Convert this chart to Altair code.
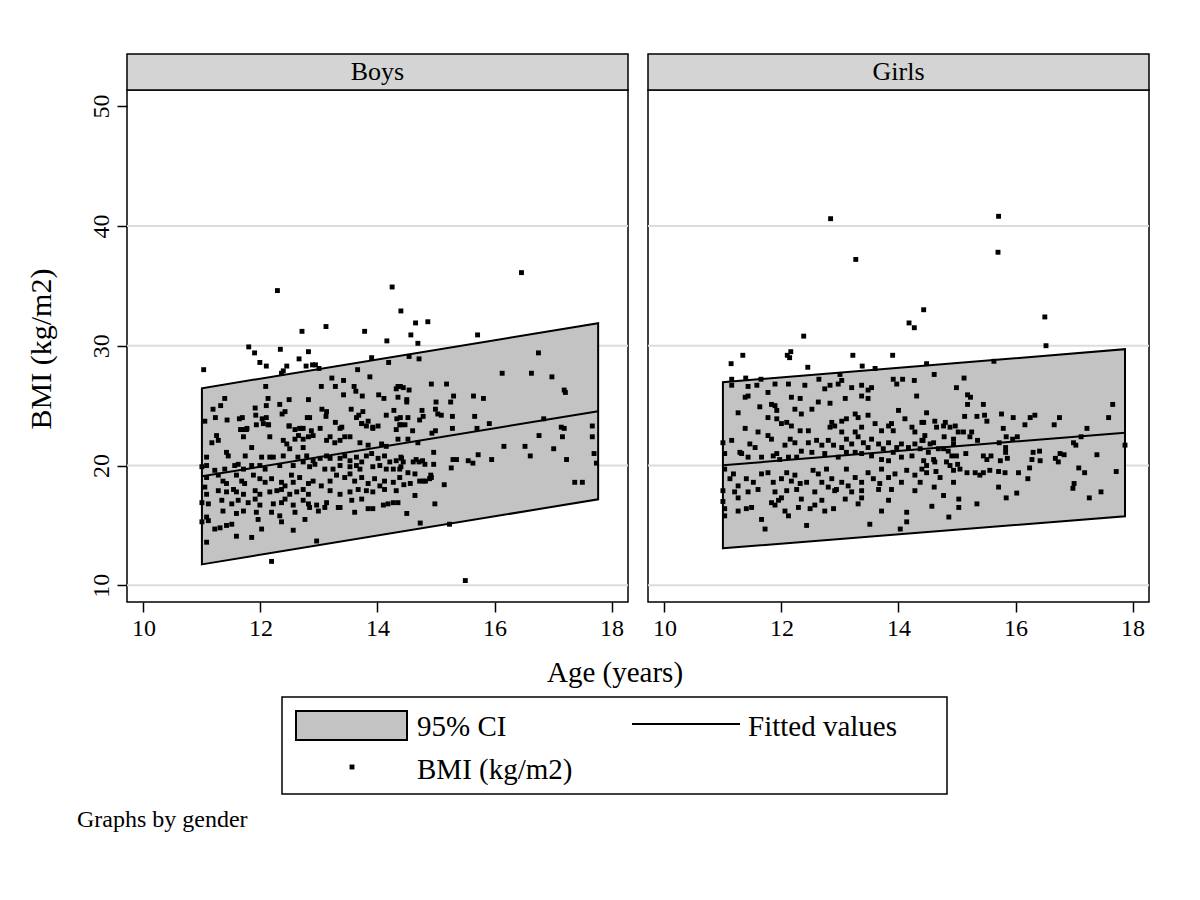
import altair as alt
import pandas as pd

PANELS = ["Boys", "Girls"]
X_TICKS = [10, 12, 14, 16, 18]
Y_TICKS = [10, 20, 30, 40, 50]
GRID_VALUES = [10, 20, 30, 40]

boys_points = [
    (12.29, 34.6), (14.25, 34.9), (14.40, 32.9), (13.12, 31.6), (12.71, 31.2), (13.78, 31.2), (14.16, 30.4),
    (11.80, 29.9), (11.90, 29.4), (12.34, 29.7), (12.82, 29.5), (12.66, 28.9), (11.99, 28.6), (12.10, 28.3),
    (11.03, 28.0), (12.45, 28.3), (12.39, 27.9), (12.36, 27.7), (12.78, 28.3), (12.89, 28.4), (12.94, 28.4),
    (13.00, 28.1), (13.90, 29.0), (14.19, 28.6), (13.66, 28.0), (13.87, 27.4), (13.22, 27.3), (13.42, 27.1),
    (13.04, 26.6), (13.28, 26.6), (13.60, 26.6), (13.63, 26.2), (12.09, 26.6), (11.39, 25.6), (11.19, 24.7),
    (11.32, 25.0), (13.42, 25.9), (13.74, 25.8), (14.02, 25.9), (14.11, 25.6), (14.32, 26.4), (14.39, 26.6),
    (14.35, 25.7), (12.13, 25.6), (12.33, 25.1), (12.49, 25.5), (12.82, 25.5), (13.05, 24.7), (13.13, 24.5),
    (13.55, 24.7), (13.68, 24.2), (13.75, 24.5), (11.23, 24.0), (11.43, 23.8), (11.64, 23.9), (11.69, 24.0),
    (11.91, 24.8), (11.92, 24.2), (12.10, 25.0), (12.03, 23.9), (12.10, 24.0), (12.14, 23.4), (11.93, 23.4),
    (12.37, 24.3), (12.42, 24.5), (12.80, 24.0), (12.84, 24.0), (13.12, 24.1), (13.28, 23.6), (13.39, 23.2),
    (13.64, 24.0), (13.73, 23.5), (13.84, 23.7), (13.92, 23.2), (14.15, 24.2), (14.28, 24.6), (14.33, 23.9),
    (14.38, 23.4), (11.05, 23.7), (12.49, 23.3), (12.70, 23.1), (12.59, 23.0), (11.66, 23.0), (11.77, 23.1),
    (16.46, 36.1), (14.65, 31.9), (14.86, 32.0), (14.57, 30.9), (14.69, 30.2), (15.71, 30.9), (14.54, 29.1),
    (14.71, 28.9), (16.75, 29.4), (16.13, 27.7), (16.63, 27.7), (16.98, 27.4), (17.19, 26.3), (17.21, 26.1),
    (14.35, 26.6), (14.44, 26.5), (14.54, 26.3), (14.92, 26.8), (15.18, 26.8), (15.30, 25.8), (15.25, 25.3),
    (15.64, 25.8), (15.81, 25.6), (14.50, 25.5), (14.50, 25.3), (15.00, 25.3), (14.76, 24.6), (14.99, 24.7),
    (15.03, 24.3), (15.09, 24.2), (15.28, 24.1), (14.39, 24.0), (14.52, 24.0), (14.72, 23.8), (14.78, 24.1),
    (15.66, 24.1), (14.40, 23.4), (14.47, 23.4), (14.60, 22.9), (14.99, 22.9), (15.28, 23.1), (15.70, 23.1),
    (15.91, 23.5), (16.84, 23.9), (17.14, 23.2), (17.19, 23.1), (17.67, 23.3),
    (14.93, 22.7), (14.52, 22.2), (14.69, 21.9), (16.76, 22.5), (17.16, 22.4), (17.67, 22.4), (16.16, 21.6),
    (16.52, 21.6), (16.61, 20.8), (17.01, 21.4), (17.23, 20.5), (17.70, 21.0), (17.74, 20.2), (14.40, 20.7),
    (14.44, 20.3), (14.40, 19.9), (14.61, 20.3), (14.66, 20.5), (14.71, 20.3), (14.77, 20.4), (14.81, 20.1),
    (14.96, 21.1), (14.96, 20.1), (15.26, 19.8), (15.29, 20.5), (15.35, 20.5), (15.55, 20.4), (15.63, 20.2),
    (15.72, 20.9), (15.95, 20.5), (14.38, 19.7), (14.52, 19.4), (14.64, 19.3), (14.91, 19.2), (14.89, 18.9),
    (14.92, 19.0), (14.72, 18.7), (14.78, 18.7), (14.82, 18.7), (14.45, 18.4), (14.56, 18.5), (15.14, 18.4),
    (17.37, 18.6), (17.50, 18.6), (14.64, 17.5), (14.98, 16.8), (14.50, 16.0), (14.73, 15.2), (15.23, 15.1),
    (15.50, 10.4),
    (11.71, 23.0), (11.76, 23.0), (12.05, 23.5), (12.13, 23.4), (12.49, 23.3), (12.67, 23.1), (12.73, 23.1),
    (12.87, 22.9), (12.82, 22.4), (13.02, 23.1), (13.19, 22.4), (13.36, 23.1), (13.44, 22.4), (13.53, 22.4),
    (13.73, 23.5), (13.81, 23.3), (13.92, 23.1), (14.01, 23.3), (14.32, 23.0), (11.17, 21.9), (11.25, 22.5),
    (11.28, 22.1), (11.71, 22.4), (12.16, 22.4), (12.39, 22.1), (12.45, 21.8), (12.59, 22.2), (12.65, 22.5),
    (12.73, 22.2), (12.90, 22.5), (13.13, 22.1), (13.27, 21.9), (13.36, 22.1), (13.70, 21.9), (13.84, 21.7),
    (14.07, 21.8), (14.15, 21.6), (14.35, 22.2),
    (11.08, 20.7), (11.42, 21.1), (11.45, 20.8), (11.74, 20.8), (11.85, 21.5), (12.02, 20.7), (12.16, 20.7),
    (12.22, 20.7), (12.39, 20.8), (12.50, 21.4), (12.64, 20.7), (12.73, 21.5), (12.79, 20.8), (12.90, 20.4),
    (13.02, 20.6), (13.13, 20.8), (13.19, 20.6), (13.36, 20.6), (13.44, 20.8), (13.53, 20.4), (13.64, 20.7),
    (13.73, 20.3), (13.81, 20.8), (13.90, 21.0), (14.01, 20.6), (14.12, 20.8), (14.21, 20.3), (14.32, 20.4),
    (14.41, 20.6), (11.00, 19.9), (11.08, 20.0), (11.22, 19.6), (11.39, 19.7), (11.56, 20.0), (11.62, 20.1),
    (11.71, 19.7), (11.85, 20.0), (11.99, 20.0), (12.08, 19.7), (12.33, 20.0), (12.56, 20.0), (12.73, 20.3),
    (12.84, 19.9), (12.93, 20.1), (13.10, 19.7), (13.24, 19.7), (13.36, 20.0), (13.53, 19.9), (13.64, 20.0),
    (13.70, 19.7), (13.92, 19.9), (14.04, 20.0), (14.15, 19.7), (14.27, 19.7),
    (11.08, 19.0), (11.28, 19.2), (11.36, 18.7), (11.42, 18.5), (11.59, 19.2), (11.68, 18.7), (11.73, 18.5),
    (11.88, 19.2), (11.99, 18.9), (12.08, 18.6), (12.19, 18.9), (12.36, 18.6), (12.42, 18.3), (12.53, 19.2),
    (12.56, 18.6), (12.67, 19.0), (12.82, 18.5), (12.90, 18.7), (13.04, 18.3), (13.19, 18.7), (13.30, 19.2),
    (13.44, 19.0), (13.53, 19.3), (13.61, 18.7), (13.73, 19.0), (13.84, 18.5), (13.95, 18.9), (14.04, 18.3),
    (14.12, 18.7), (14.27, 18.6), (14.38, 19.0), (11.05, 18.2), (11.08, 17.6), (11.28, 17.9), (11.42, 17.8),
    (11.54, 18.0), (11.59, 17.8), (11.71, 17.6), (11.91, 17.9), (11.99, 17.6), (12.16, 17.8), (12.28, 17.9),
    (12.36, 18.0), (12.50, 17.6), (12.62, 17.8), (12.73, 18.0), (12.82, 17.6), (13.19, 17.9), (13.36, 17.6),
    (13.53, 17.8), (13.67, 18.0), (13.81, 17.9), (13.92, 17.8), (14.12, 18.0), (14.32, 17.9),
    (11.00, 16.9), (11.11, 16.8), (11.34, 17.1), (11.51, 16.8), (11.62, 17.1), (11.79, 16.9), (11.91, 17.2),
    (11.99, 16.7), (12.22, 16.8), (12.36, 16.9), (12.42, 17.2), (12.56, 16.7), (12.73, 17.1), (12.82, 16.8),
    (12.96, 16.7), (13.13, 16.9), (13.36, 16.5), (13.56, 17.1), (13.73, 17.2), (13.92, 16.4), (14.10, 16.7),
    (14.18, 16.8), (14.27, 16.9), (14.35, 16.9), (11.00, 15.3), (11.08, 15.7), (11.11, 15.4), (11.22, 14.7),
    (11.31, 14.8), (11.36, 16.2), (11.42, 15.0), (11.51, 15.1), (11.59, 16.0), (11.59, 14.1), (11.71, 16.2),
    (11.85, 14.0), (11.93, 16.1), (11.96, 15.5), (12.02, 14.7), (12.19, 16.1), (12.33, 15.8), (12.36, 15.3),
    (12.56, 14.6), (12.59, 16.1), (12.76, 15.5), (12.84, 16.5), (12.99, 16.2), (13.10, 16.5), (13.33, 16.5),
    (13.61, 16.1), (13.84, 16.4), (11.08, 13.6), (12.96, 13.7), (12.19, 12.0),
]

girls_points = [
    (12.84, 40.6), (13.27, 37.2), (14.43, 33.0), (14.18, 31.9), (14.27, 31.5), (12.38, 30.8), (11.14, 28.5),
    (11.34, 29.2), (12.10, 29.2), (12.16, 29.5), (12.14, 29.0), (13.22, 29.2), (13.90, 29.2), (12.45, 28.2),
    (13.38, 28.3), (13.60, 28.1), (13.00, 27.6), (11.15, 27.2), (11.39, 27.3), (11.65, 27.2), (12.64, 27.2),
    (13.03, 27.1), (13.91, 27.2), (14.07, 27.2), (14.27, 27.1),
    (15.71, 40.8), (15.70, 37.8), (16.50, 32.4), (16.52, 30.0), (14.48, 28.5), (15.63, 28.7), (14.61, 27.6),
    (15.12, 27.3),
    (11.15, 26.7), (11.43, 26.6), (11.58, 26.7), (11.89, 26.8), (12.12, 26.8), (12.40, 26.7), (12.74, 26.4),
    (12.83, 26.7), (12.97, 26.8), (13.20, 26.5), (13.37, 26.7), (13.48, 26.3), (13.54, 26.5), (13.97, 26.8),
    (14.31, 25.8), (11.38, 25.7), (11.43, 25.8), (11.77, 26.1), (12.17, 25.7), (12.32, 25.6), (12.63, 25.3),
    (12.83, 25.2), (13.09, 25.6), (13.37, 25.8), (13.48, 25.6),
    (11.26, 24.4), (11.63, 24.9), (11.83, 25.1), (11.89, 25.0), (11.92, 24.6), (12.23, 24.7), (12.34, 24.3),
    (12.52, 24.7), (11.77, 24.0), (11.92, 23.9), (12.00, 23.5), (12.09, 23.6), (12.17, 23.3), (12.32, 22.9),
    (12.46, 22.9), (12.86, 23.6), (13.03, 23.7), (13.11, 23.9), (13.26, 24.3), (13.31, 24.0), (13.48, 24.2),
    (13.60, 23.5), (13.83, 23.3), (13.88, 23.5), (14.00, 24.6), (14.11, 23.9), (14.23, 23.2), (14.40, 23.6),
    (11.38, 23.1), (11.60, 22.8), (12.83, 23.2), (12.91, 23.3), (13.03, 22.8), (13.26, 22.8), (13.37, 23.2),
    (13.71, 22.9), (13.91, 22.9), (14.28, 22.8),
    (11.00, 21.9), (11.15, 22.1), (11.32, 21.0), (11.46, 21.8), (11.55, 21.5), (11.77, 22.5), (11.83, 22.2),
    (11.86, 20.8), (11.92, 21.0), (11.97, 20.5), (12.06, 21.7), (12.15, 22.2), (12.23, 21.9), (12.34, 21.2),
    (12.46, 21.9), (12.52, 21.1), (12.60, 22.1), (12.69, 21.7), (12.80, 22.1), (12.89, 21.7), (13.03, 21.5),
    (13.11, 22.2), (13.20, 21.8), (13.26, 21.1), (13.31, 22.4), (13.40, 21.9), (13.48, 21.5), (13.54, 22.2),
    (13.66, 21.8), (13.74, 21.4), (13.83, 21.9), (13.91, 21.1), (13.97, 21.5), (14.05, 21.8), (14.17, 21.5),
    (14.28, 21.8), (14.40, 22.1), (11.03, 21.0), (11.29, 21.1), (11.43, 20.7), (11.66, 20.7), (12.12, 20.7),
    (12.26, 20.7), (12.74, 21.0), (12.97, 20.7), (13.11, 21.1), (13.37, 21.0), (13.54, 20.8), (13.71, 20.5),
    (13.83, 20.4), (14.05, 20.7), (14.23, 20.8),
    (11.03, 19.7), (11.12, 18.9), (11.18, 19.3), (11.26, 18.3), (11.40, 18.9), (11.52, 18.6), (11.66, 19.3),
    (11.77, 19.4), (11.86, 18.6), (12.00, 18.9), (12.09, 19.4), (12.17, 18.7), (12.23, 19.2), (12.32, 18.5),
    (12.43, 18.6), (12.54, 19.6), (12.63, 19.3), (12.69, 18.6), (12.77, 19.7), (12.80, 18.2), (12.86, 18.9),
    (12.94, 18.0), (13.03, 18.6), (13.11, 19.7), (13.14, 18.3), (13.26, 19.0), (13.37, 18.6), (13.48, 19.4),
    (13.57, 18.9), (13.68, 18.5), (13.71, 19.7), (13.83, 19.0), (13.94, 19.3), (14.05, 18.6), (14.14, 19.6),
    (14.28, 19.2), (14.37, 18.6), (11.00, 17.9), (11.20, 17.8), (11.43, 17.8), (11.60, 18.0), (11.89, 17.8),
    (12.09, 17.9), (12.26, 18.0), (12.57, 17.8), (12.91, 17.9), (13.20, 17.8), (13.37, 17.9), (13.66, 18.0),
    (13.88, 18.0), (14.28, 17.9),
    (11.03, 16.4), (11.03, 15.8), (11.26, 17.3), (11.26, 16.2), (11.40, 16.4), (11.49, 16.5), (11.66, 15.5),
    (11.72, 14.7), (11.83, 16.9), (11.89, 16.7), (11.95, 17.1), (12.06, 16.2), (12.12, 15.8), (12.29, 16.5),
    (12.43, 15.0), (12.49, 16.4), (12.57, 16.7), (12.69, 17.1), (12.74, 16.2), (12.89, 16.4), (13.09, 17.2),
    (13.31, 16.8), (13.51, 15.1), (13.71, 16.2), (14.03, 14.7), (14.14, 16.1), (14.14, 15.3), (11.00, 17.0),
    (12.00, 17.3), (12.34, 17.2), (13.37, 17.3), (13.83, 17.1),
    (14.99, 26.5), (15.18, 25.9), (15.23, 25.7), (15.18, 25.1), (15.45, 25.1), (17.66, 25.1), (14.48, 24.4),
    (14.43, 23.6), (14.62, 23.7), (14.77, 23.3), (14.80, 23.6), (14.88, 23.2), (14.97, 23.3), (14.65, 23.2),
    (15.13, 24.1), (15.34, 24.1), (15.47, 24.2), (15.51, 23.7), (15.76, 24.3), (15.96, 24.0), (16.16, 23.4),
    (16.25, 24.0), (16.33, 24.2), (16.66, 23.4), (16.75, 24.0), (17.22, 23.1), (17.59, 24.0), (15.79, 23.1),
    (14.45, 22.5), (14.42, 22.1), (14.54, 21.8), (14.60, 21.9), (14.78, 22.4), (14.94, 22.2), (14.94, 21.8),
    (15.02, 22.8), (15.11, 22.8), (15.25, 22.8), (15.22, 22.4), (15.35, 22.1), (15.72, 21.9), (15.84, 22.4),
    (15.95, 22.2), (16.03, 22.4), (16.99, 21.9), (17.03, 21.7), (17.12, 22.4), (17.87, 21.7),
    (14.37, 21.4), (14.51, 21.1), (14.68, 21.4), (14.77, 21.4), (14.85, 21.2), (14.91, 20.8), (14.99, 20.8),
    (15.15, 21.0), (15.45, 20.8), (15.58, 20.8), (15.51, 20.5), (15.83, 21.5), (15.83, 21.1), (16.30, 21.1),
    (16.41, 21.2), (16.28, 20.5), (16.42, 20.4), (16.68, 20.6), (16.73, 20.3), (16.76, 21.0), (16.83, 20.9),
    (17.39, 20.9), (14.43, 20.4), (14.48, 20.0), (14.60, 20.5), (14.62, 20.3), (14.82, 20.3), (14.88, 20.0),
    (15.01, 20.1), (15.74, 20.4), (15.86, 20.6), (17.08, 19.8), (17.18, 19.4),
    (14.40, 19.7), (14.48, 19.4), (14.64, 19.5), (14.71, 19.0), (14.94, 19.6), (15.05, 19.7), (15.17, 19.4),
    (15.31, 19.4), (15.39, 19.2), (15.45, 19.4), (15.56, 19.6), (15.71, 19.5), (15.82, 19.4), (16.05, 19.4),
    (16.24, 19.8), (16.21, 18.9), (17.72, 19.5), (14.94, 18.6), (14.61, 18.2), (15.71, 18.2), (16.02, 17.7),
    (17.00, 18.5), (16.98, 18.1), (17.46, 17.8), (14.77, 17.5), (15.84, 17.3), (17.26, 17.3), (15.03, 17.2),
    (15.03, 16.5), (15.34, 16.8), (14.57, 16.6), (14.86, 15.7),
]

boys_fit_age = [11.0, 17.77]
boys_fit = [19.10, 24.53]
boys_lo = [11.75, 17.18]
boys_hi = [26.45, 31.88]

girls_fit_age = [11.0, 17.87]
girls_fit = [20.02, 22.74]
girls_lo = [13.09, 15.76]
girls_hi = [26.95, 29.71]

FONT = "Liberation Serif"
W, H = 501, 512
XDOM = [9.72, 18.28]
YDOM = [8.61, 51.34]
BAND = "#c3c3c3"
STRIP = "#d4d4d4"
GRID = "#dcdcdc"
PT_SIZE = 24


def panel(label, pts, fa, ff, flo, fhi, first):
    pts_df = pd.DataFrame(pts, columns=["age", "bmi"])
    fit_df = pd.DataFrame({"age": fa, "fit": ff, "lo": flo, "hi": fhi})
    grid_df = pd.DataFrame({"v": GRID_VALUES})
    one = pd.DataFrame({"k": [0]})

    xs = alt.Scale(domain=XDOM, nice=False, zero=False)
    ys = alt.Scale(domain=YDOM, nice=False, zero=False)
    xax = alt.Axis(values=X_TICKS, title=None, grid=False, domain=False, tickSize=10,
                   tickWidth=1.5, tickColor="black", labelFont=FONT, labelFontSize=24,
                   labelColor="black", labelPadding=4, format="d")
    if first:
        yax = alt.Axis(values=Y_TICKS, title=None, grid=False, domain=False, tickSize=10,
                       tickWidth=1.5, tickColor="black", labelFont=FONT, labelFontSize=24,
                       labelColor="black", labelAngle=270, labelPadding=4, format="d")
    else:
        yax = None

    grid = alt.Chart(grid_df).mark_rule(color=GRID, strokeWidth=2).encode(
        y=alt.Y("v:Q", scale=ys, axis=yax), x=alt.value(0), x2=alt.value(W))
    band = alt.Chart(fit_df).mark_area(fill=BAND, stroke="black", strokeWidth=2, opacity=1).encode(
        x=alt.X("age:Q", scale=xs, axis=xax), y=alt.Y("lo:Q", scale=ys, axis=yax), y2="hi:Q")
    pts_layer = alt.Chart(pts_df).mark_square(size=PT_SIZE, color="black", opacity=1).encode(
        x=alt.X("age:Q", scale=xs, axis=xax), y=alt.Y("bmi:Q", scale=ys, axis=yax))
    line = alt.Chart(fit_df).mark_line(color="black", strokeWidth=2).encode(
        x=alt.X("age:Q", scale=xs, axis=xax), y=alt.Y("fit:Q", scale=ys, axis=yax))
    strip = alt.Chart(one).mark_rect(fill=STRIP, stroke="black", strokeWidth=1.5).encode(
        x=alt.value(0), x2=alt.value(W), y=alt.value(-36), y2=alt.value(0))
    strip_text = alt.Chart(one).mark_text(text=label, font=FONT, fontSize=26, color="black",
                                          align="center", baseline="middle").encode(
        x=alt.value(W / 2), y=alt.value(-18))

    layers = [grid, band, pts_layer, line, strip, strip_text]

    if first:
        def txt(s, x, y, size=29, align="left", angle=0):
            kw = dict(text=s, font=FONT, fontSize=size, color="black", align=align, baseline="middle")
            if angle:
                kw["angle"] = angle
            return alt.Chart(one).mark_text(**kw).encode(x=alt.value(x), y=alt.value(y))

        ytitle = txt("BMI (kg/m2)", -85, 259, 30, "center", 270)
        xtitle = txt("Age (years)", 488, 583, 29, "center")
        box = alt.Chart(one).mark_rect(fill="white", stroke="black", strokeWidth=1.5).encode(
            x=alt.value(155), x2=alt.value(820), y=alt.value(607), y2=alt.value(704))
        sw = alt.Chart(one).mark_rect(fill=BAND, stroke="black", strokeWidth=2).encode(
            x=alt.value(169), x2=alt.value(280), y=alt.value(621), y2=alt.value(650))
        l1 = txt("95% CI", 290, 637)
        lline = alt.Chart(one).mark_rule(color="black", strokeWidth=2).encode(
            x=alt.value(505), x2=alt.value(613), y=alt.value(634))
        l2 = txt("Fitted values", 621, 637)
        ldot = alt.Chart(one).mark_square(size=PT_SIZE, color="black", opacity=1).encode(
            x=alt.value(225), y=alt.value(677))
        l3 = txt("BMI (kg/m2)", 290, 680)
        note = txt("Graphs by gender", -50, 730, 24)
        layers += [ytitle, xtitle, box, sw, l1, lline, l2, ldot, l3, note]

    return alt.layer(*layers).properties(width=W, height=H)


left = panel(PANELS[0], boys_points, boys_fit_age, boys_fit, boys_lo, boys_hi, True)
right = panel(PANELS[1], girls_points, girls_fit_age, girls_fit, girls_lo, girls_hi, False)

chart = alt.hconcat(left, right, spacing=20, bounds="flush").properties(
    padding={"left": 18, "top": 44, "right": 5, "bottom": 5},
    background="white",
).configure_view(stroke="black", strokeWidth=1.5)

chart.save("out.html", embed_options={"renderer": "svg", "actions": False})
